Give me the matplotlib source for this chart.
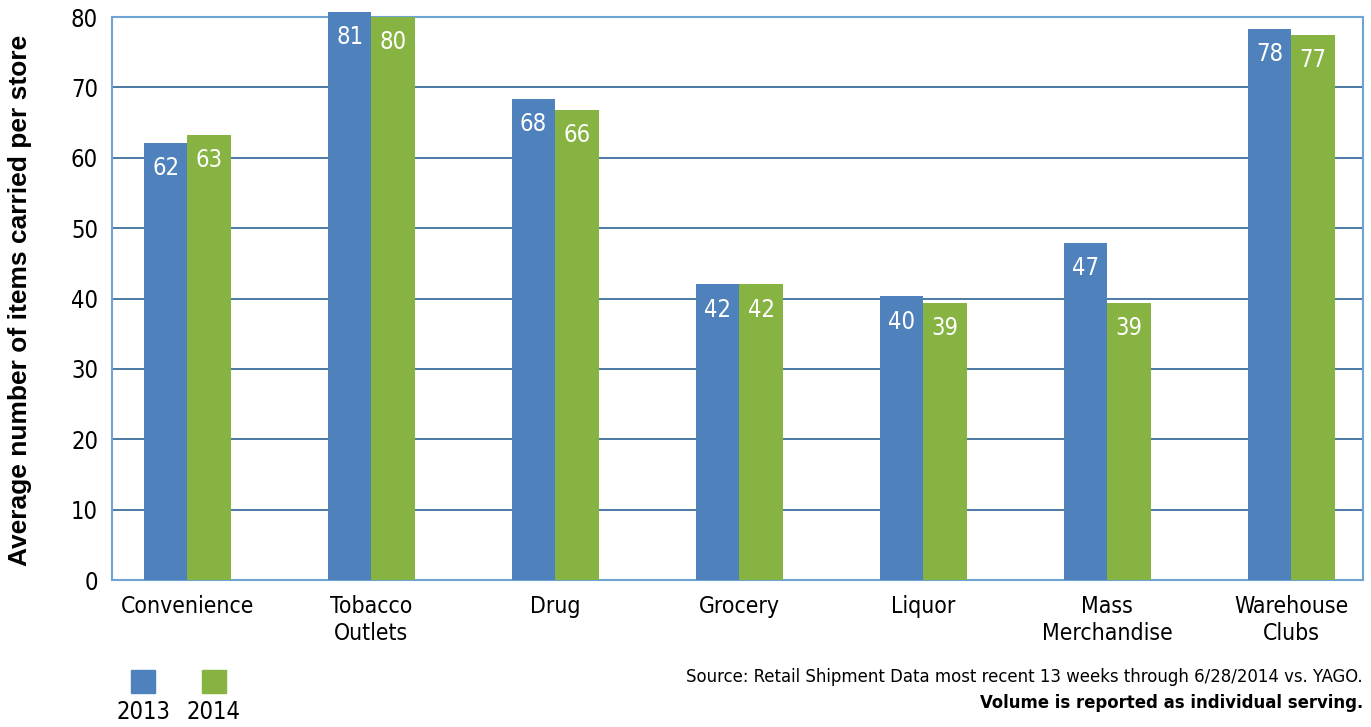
import matplotlib.pyplot as plt
import numpy as np
from matplotlib.patches import Rectangle

# data
categories = ["Convenience", "Tobacco\nOutlets", "Drug", "Grocery", "Liquor",
              "Mass\nMerchandise", "Warehouse\nClubs"]
vals_2013 = [62.1, 80.7, 68.4, 42.0, 40.3, 47.9, 78.3]
vals_2014 = [63.3, 80.0, 66.8, 42.0, 39.4, 39.4, 77.5]
labels_2013 = ["62", "81", "68", "42", "40", "47", "78"]
labels_2014 = ["63", "80", "66", "42", "39", "39", "77"]
yticks = [0, 10, 20, 30, 40, 50, 60, 70, 80]

BLUE = "#4F81BD"
GREEN = "#86B341"
GRID = "#3E6F9E"
SPINE = "#6FA3D2"

# narrow face for most text
NF = dict(family="DejaVu Sans", stretch="condensed")

fig = plt.figure(figsize=(13.71, 7.27), dpi=100)
ax = fig.add_axes([112/1371, 1 - 580/727, 1251/1371, 563/727])

x = np.arange(len(categories))
w = 0.237
b1 = ax.bar(x - w/2, vals_2013, w, color=BLUE, zorder=3, clip_on=False)
b2 = ax.bar(x + w/2, vals_2014, w, color=GREEN, zorder=3, clip_on=False)

for bars, labs in ((b1, labels_2013), (b2, labels_2014)):
    for r, t in zip(bars, labs):
        ax.text(r.get_x() + r.get_width()/2, r.get_height() - 1.9, t,
                ha="center", va="top", color="white", fontsize=17,
                zorder=4, **NF)

ax.set_xlim(-0.41, 6.39)
ax.set_ylim(0, 80)
ax.set_yticks(yticks)
ax.set_yticklabels([str(t) for t in yticks], fontsize=17, **NF)
ax.set_xticks(x)
ax.set_xticklabels(categories, fontsize=16.5, linespacing=1.2, **NF)
ax.tick_params(length=0)
ax.tick_params(axis="y", pad=10)
ax.tick_params(axis="x", pad=11)
ax.yaxis.grid(True, color=GRID, linewidth=1.3, zorder=1)
for s in ax.spines.values():
    s.set_color(SPINE)
    s.set_linewidth(1.5)

ax.set_ylabel("Average number of items carried per store", fontsize=19,
              fontweight="bold", family=["Liberation Sans", "DejaVu Sans"])
ax.yaxis.set_label_coords(-0.064, 0.497)

# legend squares with years below
for px, col, yr in ((131, BLUE, "2013"), (202, GREEN, "2014")):
    fig.patches.append(Rectangle((px/1371, 1 - 693/727), 24/1371, 23/727,
                                 transform=fig.transFigure, color=col))
    fig.text((px + 12)/1371, 1 - 712/727, yr, ha="center", va="center",
             fontsize=17, **NF)

fig.text(1363/1371, 1 - 677/727,
         "Source: Retail Shipment Data most recent 13 weeks through 6/28/2014 vs. YAGO.",
         ha="right", va="center", fontsize=13.2, **NF)
fig.text(1363/1371, 1 - 703/727, "Volume is reported as individual serving.",
         ha="right", va="center", fontsize=13.2, fontweight="bold", **NF)

fig.savefig("out.png", dpi=100)
